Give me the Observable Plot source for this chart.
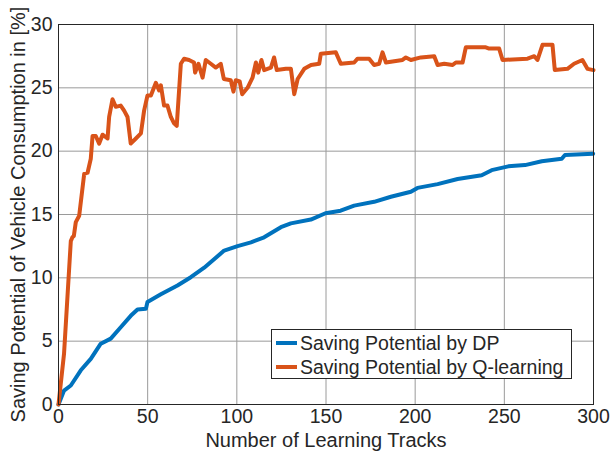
<!DOCTYPE html>
<html>
<head>
<meta charset="utf-8">
<script src="https://cdn.jsdelivr.net/npm/d3@7"></script>
<script src="https://cdn.jsdelivr.net/npm/@observablehq/plot@0.6"></script>
<style>
  html, body { margin: 0; padding: 0; background: #fff; }
  #wrap { position: relative; width: 610px; height: 455px; font-family: "Liberation Sans", Arial, Helvetica, sans-serif; }
  #legend { position: absolute; left: 271px; top: 329px; width: 299px; height: 48px; background: #fff; border: 1px solid #262626; box-sizing: content-box; font-size: 19.5px; color: #262626; }
  .item { position: absolute; left: 4px; height: 24px; display: flex; align-items: center; white-space: nowrap; }
  .swatch { width: 21px; height: 4px; margin-right: 3px; }
</style>
</head>
<body>
<div id="wrap"></div>
<script>
const seriesNames = ["Saving Potential by DP", "Saving Potential by Q-learning"];
const seriesColors = ["#0072BD", "#D95319"];
const xTicks = [0, 50, 100, 150, 200, 250, 300];
const yTicks = [0, 5, 10, 15, 20, 25, 30];
const xLabel = "Number of Learning Tracks";
const yLabel = "Saving Potential of Vehicle Consumption in [%]";

const dpX = [0, 3.1, 6.9, 12.5, 18.1, 23.7, 29.3, 34.9, 40.5, 44.3, 49, 49.9, 57.4, 66.7, 74.2, 81.7, 92.9, 100.4, 107.9, 115.3, 124.7, 130.3, 141.5, 149.7, 158.2, 165.8, 177, 186.4, 197.6, 201.3, 212.6, 223.8, 237.3, 242.9, 252.2, 261.6, 271, 282.2, 284, 299.8];
const dpY = [0, 1.1, 1.5, 2.7, 3.6, 4.8, 5.2, 6.1, 7.0, 7.5, 7.55, 8.1, 8.7, 9.4, 10.05, 10.8, 12.15, 12.5, 12.8, 13.2, 14.0, 14.3, 14.6, 15.1, 15.3, 15.7, 16.0, 16.4, 16.8, 17.1, 17.4, 17.8, 18.1, 18.5, 18.8, 18.9, 19.2, 19.4, 19.7, 19.8];

const qX = [0, 3.1, 6.9, 7.8, 8.6, 9.7, 11.6, 14.4, 16.3, 18.1, 19.1, 20.9, 22.8, 24.7, 27.5, 28.4, 30.3, 32.1, 34.9, 36.8, 38.7, 40.5, 43.4, 46.2, 48.0, 49.9, 51.8, 54.6, 56.4, 57.4, 59.2, 61.1, 63.0, 64.8, 66.3, 68.6, 70.4, 73.2, 76.0, 76.6, 78.5, 80.8, 82.6, 85.4, 88.2, 91.0, 92.7, 96.6, 98.1, 99.4, 101.6, 103.0, 106.0, 108.8, 110.7, 112.0, 113.8, 115.3, 119.1, 120.9, 122.4, 127.5, 130.3, 132.2, 134.1, 137.8, 141.6, 146.2, 147.1, 155.5, 158.3, 165.8, 167.7, 174.2, 177.0, 179.8, 181.7, 183.6, 192.9, 194.8, 197.6, 203.2, 210.7, 212.6, 216.3, 221.0, 222.8, 226.6, 228.4, 239.6, 241.5, 247.1, 249.0, 263.0, 266.8, 268.6, 271.4, 277.0, 278.3, 285.4, 289.1, 293.8, 296.6, 300];
const qY = [0, 4.0, 12.9, 13.2, 13.3, 14.4, 14.9, 18.2, 18.3, 19.4, 21.2, 21.2, 20.6, 21.3, 21.0, 22.7, 24.1, 23.5, 23.6, 23.2, 22.7, 20.6, 21.0, 21.4, 23.2, 24.4, 24.4, 25.4, 24.8, 25.2, 23.6, 23.6, 22.7, 22.2, 22.0, 26.9, 27.3, 27.2, 27.0, 26.2, 26.9, 25.8, 27.2, 26.9, 26.6, 26.9, 25.7, 25.6, 24.7, 25.6, 25.5, 24.5, 25.0, 25.8, 27.0, 26.2, 27.2, 26.4, 26.6, 27.4, 26.4, 26.5, 26.5, 24.5, 25.7, 26.5, 26.8, 26.9, 27.7, 27.8, 26.9, 27.0, 27.3, 27.3, 26.8, 26.9, 27.8, 27.0, 27.2, 27.4, 27.2, 27.4, 27.5, 26.8, 26.9, 26.8, 27.0, 27.0, 28.2, 28.2, 28.1, 28.1, 27.2, 27.3, 27.5, 27.2, 28.4, 28.4, 26.4, 26.5, 26.9, 27.2, 26.5, 26.4];

const dp = dpX.map((x, i) => ({x, y: dpY[i]}));
const q = qX.map((x, i) => ({x, y: qY[i]}));

const chart = Plot.plot({
  width: 610,
  height: 455,
  marginLeft: 58,
  marginRight: 17,
  marginTop: 24,
  marginBottom: 51,
  style: {fontFamily: "'Liberation Sans', Arial, Helvetica, sans-serif", fontSize: "19.5px", color: "#262626", background: "#fff", overflow: "visible"},
  x: {domain: [0, 300]},
  y: {domain: [0, 30]},
  marks: [
    Plot.gridX(xTicks, {stroke: "#9a9a9a", strokeOpacity: 1, strokeWidth: 1}),
    Plot.gridY(yTicks, {stroke: "#9a9a9a", strokeOpacity: 1, strokeWidth: 1}),
    Plot.line(dp, {x: "x", y: "y", stroke: seriesColors[0], strokeWidth: 4, strokeLinejoin: "round", strokeLinecap: "round"}),
    Plot.line(q, {x: "x", y: "y", stroke: seriesColors[1], strokeWidth: 4, strokeLinejoin: "round", strokeLinecap: "round"}),
    Plot.frame({stroke: "#262626", strokeWidth: 1}),
    Plot.axisX(xTicks, {tickSize: 0, tickPadding: 5, fontSize: 19.5, label: xLabel, labelAnchor: "center", labelOffset: 42, labelArrow: "none"}),
    Plot.axisY(yTicks, {tickSize: 0, tickPadding: 6, fontSize: 19.5, label: yLabel, labelAnchor: "center", labelOffset: 48, labelArrow: "none"})
  ]
});

const wrap = document.getElementById("wrap");
wrap.appendChild(chart);
chart.querySelectorAll("g[aria-label='x-axis label'] text, g[aria-label='y-axis label'] text").forEach(t => t.setAttribute("font-size", "20"));

const legend = document.createElement("div");
legend.id = "legend";
seriesNames.forEach((name, i) => {
  const item = document.createElement("div");
  item.className = "item";
  item.style.top = (i * 24 + 1) + "px";
  const sw = document.createElement("span");
  sw.className = "swatch";
  sw.style.background = seriesColors[i];
  const tx = document.createElement("span");
  tx.textContent = name;
  item.appendChild(sw);
  item.appendChild(tx);
  legend.appendChild(item);
});
wrap.appendChild(legend);
</script>
</body>
</html>
